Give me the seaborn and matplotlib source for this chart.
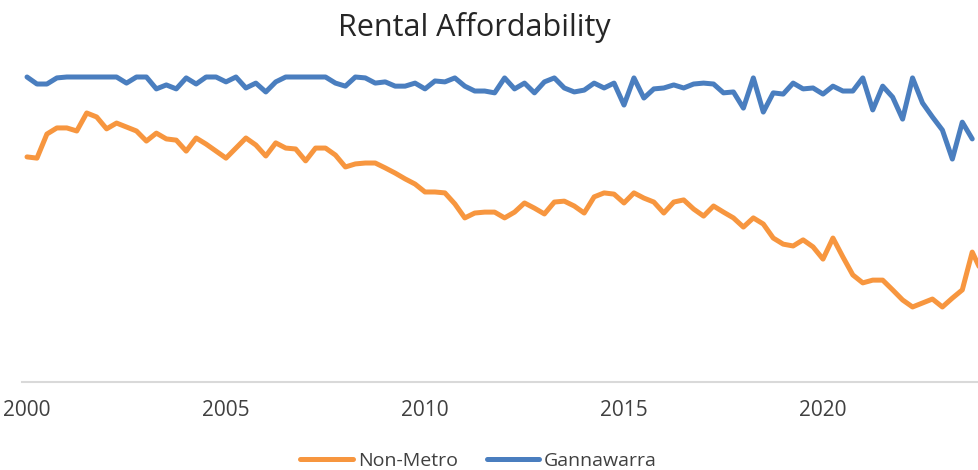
import pandas as pd
import seaborn as sns
import matplotlib.pyplot as plt

sns.set_style("white")
plt.rcParams['font.family'] = ['Open Sans', 'DejaVu Sans']

TITLE = 'Rental Affordability'
START_QUARTER = '2000Q1'
TICK_YEARS = [2000, 2005, 2010, 2015, 2020]

# share of rentals affordable (%), quarterly
gannawarra = [100, 97.7, 97.7, 99.7, 100, 100, 100, 100, 100, 100,
              98.0, 100, 100, 96.1, 97.4, 96.1, 99.7, 97.7, 100, 100,
              98.4, 100, 96.4, 98.0, 95.1, 98.4, 100, 100, 100, 100,
              100, 98.0, 97.0, 100, 99.7, 98.0, 98.4, 97.0, 97.0, 98.0,
              96.1, 98.7, 98.4, 99.7, 97.0, 95.4, 95.4, 94.8, 99.7, 96.1,
              98.0, 94.8, 98.4, 99.7, 96.4, 95.1, 95.7, 98.0, 96.4, 98.0,
              90.8, 99.7, 93.1, 96.1, 96.4, 97.4, 96.4, 97.7, 98.0, 97.7,
              94.8, 95.1, 89.8, 99.7, 88.5, 94.8, 94.4, 98.0, 96.1, 96.4,
              94.4, 97.0, 95.4, 95.4, 99.7, 89.2, 97.0, 93.4, 86.2, 99.7,
              91.5, 86.9, 82.6, 73.1, 85.2, 79.7]

non_metro = [73.8, 73.4, 81.3, 83.3, 83.3, 82.3, 88.2, 86.9, 83.0, 84.9,
             83.6, 82.3, 79.0, 81.6, 79.7, 79.3, 75.7, 80.0, 78.0, 75.7,
             73.4, 76.7, 80.0, 77.7, 74.1, 78.4, 76.7, 76.4, 72.5, 76.7,
             76.7, 74.4, 70.5, 71.5, 71.8, 71.8, 70.2, 68.5, 66.6, 64.9,
             62.3, 62.3, 62.0, 58.4, 53.8, 55.4, 55.7, 55.7, 53.8, 55.7,
             58.7, 57.0, 55.1, 59.0, 59.3, 57.7, 55.4, 60.7, 62.0, 61.6,
             58.7, 62.0, 60.3, 59.0, 55.4, 59.0, 59.7, 56.7, 54.4, 57.7,
             55.7, 53.8, 50.8, 53.8, 51.8, 47.2, 45.2, 44.6, 46.6, 44.3,
             40.3, 47.2, 41.0, 35.1, 32.5, 33.4, 33.4, 30.2, 26.9, 24.6,
             25.9, 27.2, 24.6, 27.5, 30.2, 42.6, 35.7]

COLORS = {'Non-Metro': '#F7963F', 'Gannawarra': '#4A7EBF'}


def to_frame(name, values):
    periods = pd.period_range(START_QUARTER, periods=len(values), freq='Q')
    return pd.DataFrame({'year': periods.year + (periods.quarter - 1) / 4,
                         'value': values,
                         'area': name})


def main():
    df = pd.concat([to_frame('Non-Metro', non_metro),
                    to_frame('Gannawarra', gannawarra)], ignore_index=True)

    fig = plt.figure(figsize=(9.79, 4.70), dpi=100)
    ax = fig.add_axes([22 / 979, 1 - 382 / 470, 1 - 22 / 979, 320.25 / 470])

    sns.lineplot(data=df, x='year', y='value', hue='area',
                 hue_order=['Non-Metro', 'Gannawarra'], palette=COLORS,
                 linewidth=3.6, solid_joinstyle='round', solid_capstyle='round',
                 ax=ax)

    ax.set_xlim(1999.874, 2023.92)
    ax.set_ylim(0, 105)
    ax.set_xticks(TICK_YEARS)
    ax.set_xticklabels([str(y) for y in TICK_YEARS])
    ax.set_yticks([])
    ax.set_xlabel('')
    ax.set_ylabel('')
    ax.tick_params(axis='x', length=0, pad=13, labelsize=15, labelcolor='#404040')
    for side in ['top', 'left', 'right']:
        ax.spines[side].set_visible(False)
    ax.spines['bottom'].set_color('#D9D9D9')
    ax.spines['bottom'].set_linewidth(1.5)

    fig.text(474.5 / 979, 1 - 36 / 470, TITLE, ha='center', va='baseline',
             fontsize=22, color='#262626')

    sns.move_legend(ax, 'center', bbox_to_anchor=(0.489, 0.019),
                    bbox_transform=fig.transFigure, ncol=2, frameon=False,
                    title=None, fontsize=14, handlelength=2.7,
                    handletextpad=0.25, columnspacing=1.5)
    for t in ax.get_legend().get_texts():
        t.set_color('#404040')

    fig.savefig('out.png', dpi=100)


if __name__ == '__main__':
    main()
